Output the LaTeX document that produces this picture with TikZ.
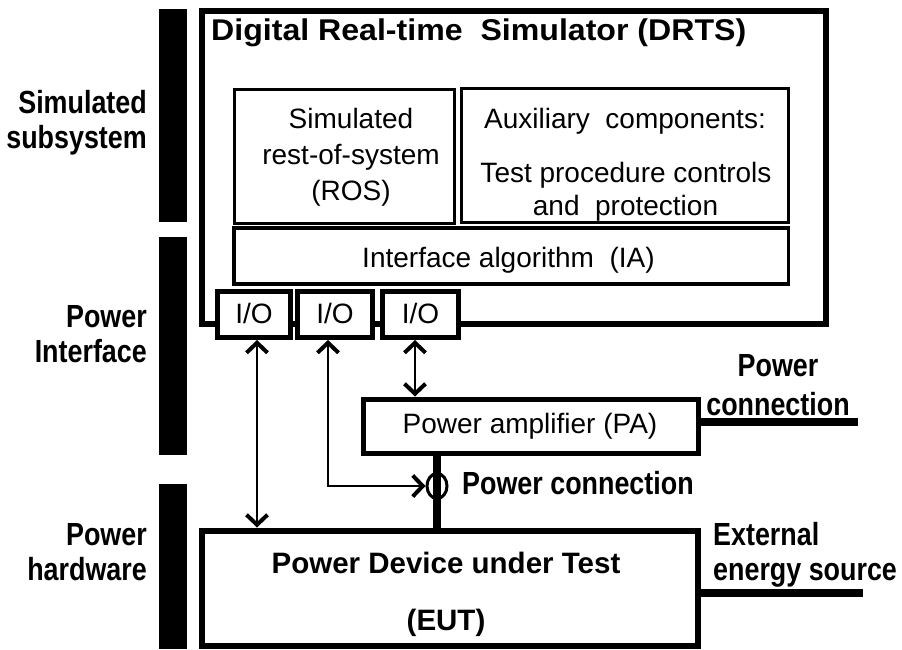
\documentclass[tikz,border=0pt]{standalone}
\usepackage{fontspec}
\setmainfont{Liberation Sans}
\newfontfamily\condfam{Liberation Sans}[FakeStretch=0.84]
\newfontfamily\ttlfam{Liberation Sans}[FakeStretch=1.07]
\usetikzlibrary{arrows.meta,shapes.geometric}
\begin{document}
\begin{tikzpicture}[x=1pt,y=-1pt,
  box/.style={draw, rectangle, inner sep=0, fill=white},
  bar/.style={fill=black, draw=none},
  reg/.style={inner sep=0, font=\fontsize{28}{28}\selectfont},
  boldt/.style={inner sep=0, font=\bfseries\fontsize{29.5}{29.5}\selectfont},
  lbl/.style={inner sep=0, font=\condfam\bfseries\fontsize{32}{32}\selectfont},
  ttl/.style={inner sep=0, font=\ttlfam\bfseries\fontsize{30}{30}\selectfont},
  sig/.style={line width=2pt, {Straight Barb[length=10pt,width=21pt,line width'=4pt]}-{Straight Barb[length=10pt,width=21pt,line width'=4pt]}},
  pwr/.style={line width=8.5pt}
]
\useasboundingbox (0,0) rectangle (902,649);
% left bars
\fill[bar] (159,9) rectangle (187,222);
\fill[bar] (159,237) rectangle (187,455);
\fill[bar] (159,484) rectangle (187,649);
% left labels
\node[lbl, anchor=base east] (l1) at (147,113) {Simulated};
\node[lbl, anchor=base east] (l2) at (147,148) {subsystem};
\node[lbl, anchor=base east] (l3) at (147,327) {Power};
\node[lbl, anchor=base east] (l4) at (147,362) {Interface};
\node[lbl, anchor=base east] (l5) at (147,545) {Power};
\node[lbl, anchor=base east] (l6) at (147,580) {hardware};
% DRTS outer box
\node[box, line width=6pt, minimum width=623.5pt, minimum height=312.5pt] (drts) at (513.75,167.25) {};
\node[ttl, anchor=base west] (title) at (211,40) {Digital Real-time \ Simulator (DRTS)};
% inner boxes
\node[box, line width=3pt, minimum width=220.5pt, minimum height=134pt] (ros) at (344.25,156) {};
\node[box, line width=3pt, minimum width=327pt, minimum height=133.5pt] (aux) at (625,155.25) {};
\node[box, line width=3.5pt, minimum width=554.5pt, minimum height=56pt] (ia) at (511.25,256) {};
\node[reg, anchor=base] (ros1) at (351,128) {Simulated};
\node[reg, anchor=base] (ros2) at (351,164) {rest-of-system};
\node[reg, anchor=base] (ros3) at (351,200) {(ROS)};
\node[reg, anchor=base] (aux1) at (625,128) {Auxiliary \ components:};
\node[reg, anchor=base] (aux2) at (626,182) {Test procedure controls};
\node[reg, anchor=base] (aux3) at (625.5,215) {and \ protection};
\node[reg, anchor=base] (iat) at (508.5,267) {Interface algorithm \ (IA)};
% I/O boxes
\node[box, line width=5pt, minimum width=73pt, minimum height=45.8pt] (io1) at (254,314.6) {};
\node[box, line width=5pt, minimum width=75pt, minimum height=45.8pt] (io2) at (335,314.6) {};
\node[box, line width=5pt, minimum width=76pt, minimum height=45.8pt] (io3) at (420.5,314.6) {};
\node[reg, anchor=base] (io1t) at (254,323) {I/O};
\node[reg, anchor=base] (io2t) at (335,323) {I/O};
\node[reg, anchor=base] (io3t) at (420.5,323) {I/O};
% power lines (drawn before boxes)
\coordinate (pce) at (858,422);
\coordinate (ext) at (863,593);
\coordinate (pcx) at (437,486);
\draw[pwr] (pcx |- 0,455) -- (pcx |- 0,528);
% PA and EUT
\node[box, line width=5pt, minimum width=335pt, minimum height=54pt] (pa) at (530.5,426) {};
\node[reg, anchor=base] (pat) at (530,433) {Power amplifier (PA)};
\node[box, line width=6pt, minimum width=496pt, minimum height=115.5pt] (eut) at (450,588.25) {};
\node[boldt, anchor=base] (eut1) at (446,573) {Power Device under Test};
\node[boldt, anchor=base] (eut2) at (446,630) {(EUT)};
\draw[pwr] (pa.east |- pce) -- (pce);
\draw[pwr] (eut.east |- ext) -- (ext);
% power connection circle
\node[draw, line width=3pt, ellipse, minimum width=20pt, minimum height=25pt, inner sep=0] (pc) at (pcx) {};
% signal arrows
\draw[sig] ([xshift=3pt]io1.south) -- ([xshift=3pt]io1.south |- eut.north);
\draw[sig] ([xshift=-7pt]io2.south) |- (pc.west);
\draw[sig] ([xshift=-5.5pt]io3.south) -- ([xshift=-5.5pt]io3.south |- pa.north);
% labels
\node[lbl, anchor=base west] (pcl) at (462,494) {Power connection};
\node[lbl, anchor=base] (pal1) at (778,376) {Power};
\node[lbl, anchor=base] (pal2) at (778,415) {connection};
\node[lbl, anchor=base west] (ex1) at (713,545) {External};
\node[lbl, anchor=base west] (ex2) at (713,580) {energy source};
\end{tikzpicture}
\end{document}
